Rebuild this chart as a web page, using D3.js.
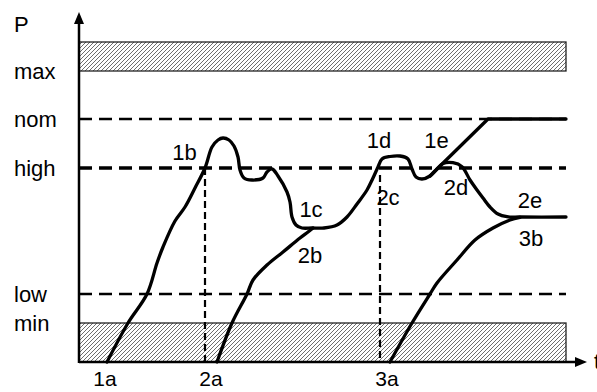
<!DOCTYPE html>
<html>
<head>
<meta charset="utf-8">
<script src="https://cdn.jsdelivr.net/npm/d3@7"></script>
<style>
  html, body { margin: 0; padding: 0; background: #fff; }
  svg { display: block; }
  text { font-family: "Liberation Sans", Arial, Helvetica, sans-serif; font-size: 22px; fill: #000; }
</style>
</head>
<body>
<script>
// ---- data (time t, power P in arbitrary chart units) ----
const levelNames  = ["min", "low", "high", "nom", "max"];
const levelValues = [39, 68, 194, 243, 291];
const bandLow  = [0, 39];      // hatched forbidden zone below min
const bandHigh = [291, 320];   // hatched forbidden zone above max
const tEnd = 487;              // end of bands / reference lines

const xTickLabels = ["1a", "2a", "3a"];
const xTickValues = [26, 132, 308];

// curve 1: 1a -> 1b -> 1c -> 1d (wavy part)
const curve1 = [
  [28,0],[49,39],[68,68],[78,99],[84,115],[96,141],[106,155],[116,174],[126,194],
  [133,215],[139,222],[144,224],[150,222],[155,216],[159,205],[161,192],[165,184],
  [173,182],[184,184],[188,190],[193,193],[199,186],[208,170],[211,160],[213,145],
  [217,137],[223,134],[233,134],[245,134],[258,137],[268,145],[278,158],[288,172],
  [294,184],[299,195],[303,203],[311,205.5],[321,206],[329,203],[333,193],[337,185],
  [343,183],[351,186],[358,193]
];
// curve 1 ramp: 1e -> nom (straight)
const curve1Ramp = [[358,193],[409,243],[487,243]];
// curve 2 rise: 2a -> 2b (joins curve 1 at 1c)
const curve2Rise = [
  [138,0],[153,39],[168,68],[174,82],[188,97],[204,110],[221,124],[229,130],[234,134]
];
// curve 2 tail after leaving curve 1: 2d -> 2e
const curve2Tail = [
  [351,186],[358,193],[364,198.5],[374,199.3],[383,195.3],[391,182],[398,172],[404,164],
  [411,155],[419,148],[428,145.3],[441,145],[487,145]
];
// curve 3: 3a -> 3b (joins 2e)
const curve3 = [
  [311,0],[333,39],[351,68],[358,79],[378,102],[396,122],[414,134],[431,142],[441,144.7]
];
// dashed markers at the moment the curve passes "high"
const markerT   = [126, 301];
const markerTop = [194, 187];

// curve labels
const curveLabels = ["1b","1c","1d","1e","2b","2c","2d","2e","3b"];
const curveLabelT = [105.5, 232, 300, 357.5, 231, 309, 377, 451, 452];
const curveLabelP = [202, 145, 214, 214, 99, 157, 167, 154, 116];

// ---- drawing ----
const W = 597, H = 392;
const svg = d3.select("body").append("svg").attr("width", W).attr("height", H);

const x = d3.scaleLinear().domain([0, 508]).range([79, 587]);
const y = d3.scaleLinear().domain([0, 350]).range([362, 12]);

const defs = svg.append("defs");
const pat = defs.append("pattern").attr("id", "hatch")
  .attr("patternUnits", "userSpaceOnUse").attr("width", 4).attr("height", 4);
pat.append("rect").attr("width", 4).attr("height", 4).attr("fill", "#fff");
pat.append("path").attr("d", "M-1,1 l2,-2 M0,4 l4,-4 M3,5 l2,-2")
  .attr("stroke", "#5e5e5e").attr("stroke-width", 0.9);

// hatched bands
[bandLow, bandHigh].forEach(b => {
  svg.append("rect")
    .attr("x", x(0)).attr("y", y(b[1]))
    .attr("width", x(tEnd) - x(0)).attr("height", y(b[0]) - y(b[1]))
    .attr("fill", "url(#hatch)").attr("stroke", "#222").attr("stroke-width", 1.3);
});

// dashed reference lines (low, high, nom)
const dashed = [["low", 2.3], ["high", 3.3], ["nom", 2.3]];
dashed.forEach(([name, w]) => {
  const v = levelValues[levelNames.indexOf(name)];
  svg.append("line")
    .attr("x1", x(0)).attr("x2", x(tEnd)).attr("y1", y(v)).attr("y2", y(v))
    .attr("stroke", "#000").attr("stroke-width", w).attr("stroke-dasharray", "13,7");
});

// vertical dashed markers
markerT.forEach((t, i) => {
  svg.append("line")
    .attr("x1", x(t)).attr("x2", x(t)).attr("y1", y(markerTop[i])).attr("y2", y(0))
    .attr("stroke", "#000").attr("stroke-width", 2.2).attr("stroke-dasharray", "7,4");
});

// curves
const smooth = d3.line().x(d => x(d[0])).y(d => y(d[1])).curve(d3.curveCatmullRom.alpha(0.5));
const straight = d3.line().x(d => x(d[0])).y(d => y(d[1]));
const paths = [[curve1, smooth], [curve1Ramp, straight], [curve2Rise, smooth],
               [curve2Tail, smooth], [curve3, smooth]];
paths.forEach(([c, gen]) => {
  svg.append("path").attr("d", gen(c))
    .attr("fill", "none").attr("stroke", "#000").attr("stroke-width", 3.3)
    .attr("stroke-linejoin", "round").attr("stroke-linecap", "round");
});

// axes
svg.append("line").attr("x1", x(0)).attr("x2", x(0)).attr("y1", y(0) + 1).attr("y2", 22)
  .attr("stroke", "#000").attr("stroke-width", 2.5);
svg.append("path").attr("d", `M${x(0)},12 L${x(0) - 5},24 L${x(0) + 5},24 Z`).attr("fill", "#000");
svg.append("line").attr("x1", x(0)).attr("x2", 578).attr("y1", y(0)).attr("y2", y(0))
  .attr("stroke", "#000").attr("stroke-width", 2.5);
svg.append("path").attr("d", `M587,${y(0)} L575,${y(0) - 5} L575,${y(0) + 5} Z`).attr("fill", "#000");

// y labels
svg.append("text").attr("x", 14).attr("y", 32).text("P");
levelNames.forEach((n, i) => {
  svg.append("text").attr("x", 14).attr("y", y(levelValues[i]) + 8).text(n);
});

// x labels
xTickLabels.forEach((s, i) => {
  svg.append("text").attr("x", x(xTickValues[i])).attr("y", 386)
    .attr("text-anchor", "middle").style("font-size", "21px").text(s);
});
svg.append("text").attr("x", 594).attr("y", 369).text("t");

// curve labels
curveLabels.forEach((s, i) => {
  svg.append("text").attr("x", x(curveLabelT[i])).attr("y", y(curveLabelP[i]))
    .attr("text-anchor", "middle").text(s);
});
</script>
</body>
</html>
